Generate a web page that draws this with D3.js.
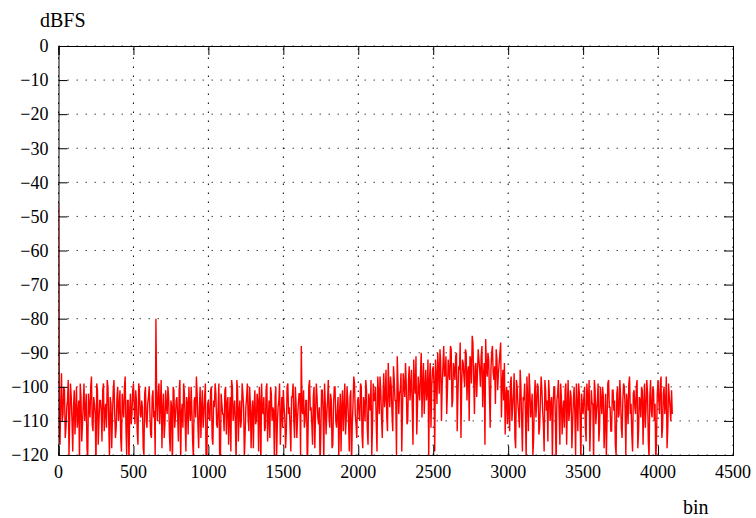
<!DOCTYPE html>
<html>
<head>
<meta charset="utf-8">
<script src="https://cdn.jsdelivr.net/npm/d3@7"></script>
<style>
  body { margin: 0; background: #fff; font-family: 'Liberation Serif', serif; }
</style>
</head>
<body>
<div id="container"></div>
<script>
// spectrum magnitude in dBFS, every 5 bins
const lastBin = 4095;

// bins 0, 10, 20 ... 4090 and the last bin 4095
const spectrumEven = [
  // 0 - 490
  -46, -117, -96, -108, -101, -112, -104, -120, -99, -110,
  -106, -114, -100, -108, -122, -103, -111, -99, -107, -118,
  -102, -109, -97, -113, -105, -124, -101, -110, -104, -116,
  -99, -107, -112, -100, -121, -105, -109, -98, -115, -103,
  -110, -101, -119, -106, -100, -112, -104, -123, -102, -108,
  // 500 - 990
  -99, -111, -104, -117, -101, -109, -106, -120, -100, -112,
  -103, -108, -115, -101, -107, -80, -110, -99, -105, -118,
  -102, -111, -106, -100, -114, -104, -125, -101, -109, -103,
  -116, -98, -108, -112, -102, -119, -105, -100, -110, -107,
  -121, -103, -97, -111, -106, -115, -101, -108, -99, -120,
  // 1000 - 1490
  -104, -110, -100, -117, -106, -102, -112, -99, -123, -105,
  -108, -101, -114, -103, -109, -119, -100, -107, -111, -98,
  -116, -104, -110, -102, -121, -106, -99, -113, -105, -108,
  -118, -101, -110, -104, -100, -124, -107, -103, -112, -99,
  -109, -115, -102, -106, -120, -100, -111, -104, -117, -103,
  // 1500 - 1990
  -101, -109, -113, -99, -106, -119, -103, -110, -100, -115,
  -105, -102, -88, -108, -112, -104, -125, -100, -107, -111,
  -103, -118, -99, -109, -106, -114, -101, -122, -105, -108,
  -98, -112, -104, -117, -100, -110, -107, -121, -102, -106,
  -113, -99, -109, -104, -119, -101, -111, -97, -108, -115,
  // 2000 - 2490
  -103, -110, -100, -118, -105, -98, -112, -102, -107, -120,
  -99, -104, -111, -97, -108, -101, -115, -96, -103, -109,
  -93, -106, -100, -113, -98, -104, -91, -108, -101, -119,
  -96, -103, -99, -110, -94, -100, -106, -92, -102, -114,
  -97, -104, -90, -99, -108, -95, -101, -121, -93, -100,
  // 2500 - 2990
  -94, -119, -97, -90, -102, -93, -99, -88, -96, -108,
  -92, -98, -89, -104, -95, -91, -113, -94, -87, -99,
  -93, -100, -90, -96, -110, -92, -85, -98, -94, -103,
  -89, -95, -91, -106, -93, -86, -97, -92, -112, -90,
  -96, -94, -89, -101, -93, -87, -99, -104, -114, -100,
  // 3000 - 3490
  -101, -113, -97, -106, -96, -118, -100, -108, -95, -110,
  -103, -99, -121, -104, -96, -109, -102, -115, -98, -105,
  -100, -112, -97, -107, -119, -101, -104, -98, -110, -103,
  -106, -100, -123, -102, -108, -99, -114, -104, -101, -117,
  -98, -107, -103, -111, -100, -120, -105, -99, -109, -102,
  // 3500 - 3990
  -108, -100, -116, -103, -98, -110, -105, -122, -101, -107,
  -99, -112, -104, -100, -118, -102, -109, -98, -106, -113,
  -101, -104, -120, -100, -108, -103, -115, -99, -106, -102,
  -111, -97, -105, -119, -101, -108, -98, -113, -104, -100,
  -117, -99, -106, -102, -121, -98, -109, -101, -105, -114,
  // 4000 - 4095
  -98, -108, -97, -112, -100, -105, -118, -99, -106, -101, -108
];

// bins 5, 15, 25 ... 4085
const spectrumOdd = [
  // 5 - 495
  -112, -104, -110, -100, -115, -106, -98, -109, -103, -119,
  -101, -107, -112, -104, -99, -116, -105, -110, -102, -121,
  -106, -100, -111, -103, -108, -99, -117, -104, -107, -101,
  -113, -105, -98, -110, -103, -118, -101, -108, -112, -100,
  -106, -115, -102, -109, -97, -120, -104, -107, -111, -101,
  // 505 - 995
  -106, -101, -113, -99, -108, -104, -118, -102, -110, -105,
  -100, -114, -103, -109, -120, -104, -102, -111, -98, -107,
  -115, -101, -108, -103, -119, -106, -100, -112, -104, -109,
  -101, -122, -105, -99, -110, -103, -114, -107, -100, -116,
  -104, -109, -102, -118, -100, -106, -112, -103, -125, -105,
  // 1005 - 1495
  -109, -101, -115, -104, -99, -111, -106, -120, -102, -108,
  -113, -100, -105, -117, -103, -98, -110, -104, -122, -101,
  -107, -112, -99, -106, -114, -103, -109, -100, -118, -104,
  -106, -111, -102, -119, -105, -99, -108, -113, -101, -116,
  -104, -100, -110, -107, -103, -121, -106, -99, -109, -112,
  // 1505 - 1995
  -106, -118, -100, -108, -112, -103, -99, -115, -105, -109,
  -102, -120, -107, -101, -110, -104, -113, -98, -106, -117,
  -100, -108, -103, -111, -123, -101, -107, -99, -114, -104,
  -109, -102, -118, -105, -100, -112, -103, -108, -119, -101,
  -106, -114, -100, -110, -103, -124, -105, -99, -111, -104,
  // 2005 - 2495
  -108, -99, -114, -103, -110, -101, -117, -105, -98, -111,
  -104, -100, -119, -102, -97, -109, -103, -106, -95, -113,
  -101, -97, -108, -94, -104, -120, -99, -102, -96, -107,
  -100, -93, -111, -98, -104, -95, -117, -99, -91, -106,
  -101, -96, -109, -93, -100, -104, -92, -98, -112, -95,
  // 2505 - 2995
  -99, -92, -105, -95, -89, -110, -94, -97, -91, -101,
  -96, -88, -106, -93, -98, -90, -102, -95, -115, -92,
  -97, -89, -104, -94, -91, -99, -87, -108, -93, -96,
  -92, -100, -88, -97, -117, -94, -90, -102, -95, -88,
  -98, -105, -92, -96, -90, -109, -95, -93, -103, -111,
  // 3005 - 3495
  -107, -99, -110, -102, -115, -98, -105, -112, -100, -119,
  -104, -108, -97, -113, -101, -106, -120, -103, -109, -99,
  -114, -104, -101, -111, -98, -107, -116, -102, -105, -121,
  -100, -109, -104, -98, -117, -103, -107, -112, -99, -106,
  -110, -101, -118, -104, -108, -99, -113, -102, -122, -106,
  // 3505 - 3995
  -103, -112, -99, -107, -119, -101, -105, -98, -111, -104,
  -116, -100, -108, -103, -110, -121, -99, -106, -113, -101,
  -107, -117, -102, -109, -98, -112, -104, -100, -120, -105,
  -99, -108, -114, -102, -106, -100, -118, -103, -109, -101,
  -105, -112, -98, -116, -103, -107, -100, -110, -123, -102,
  // 4005 - 4085
  -104, -99, -115, -102, -108, -97, -112, -103, -110
];

const xTicks = [0, 500, 1000, 1500, 2000, 2500, 3000, 3500, 4000, 4500];
const yTicks = [0, -10, -20, -30, -40, -50, -60, -70, -80, -90, -100, -110, -120];

const width = 756;
const height = 518;
const margin = { top: 46, right: 23, bottom: 63, left: 58.5 };

const svg = d3.select('#container').append('svg')
  .attr('width', width)
  .attr('height', height)
  .attr('font-family', 'Liberation Serif')
  .style('display', 'block');

const x = d3.scaleLinear()
  .domain([0, 4500])
  .range([margin.left, width - margin.right]);

const y = d3.scaleLinear()
  .domain([-120, 0])
  .range([height - margin.bottom, margin.top]);

// merge the two readings into one bin-ordered trace
const points = [];
spectrumEven.forEach((v, i) => {
  points.push([Math.min(i * 10, lastBin), v]);
  if (i < spectrumOdd.length) points.push([i * 10 + 5, spectrumOdd[i]]);
});

const fmt = d => (d < 0 ? '\u2212' + Math.abs(d) : String(d));

// dotted grid
svg.append('g')
  .selectAll('line')
  .data(yTicks)
  .enter().append('line')
  .attr('x1', x(0)).attr('x2', x(4500))
  .attr('y1', d => y(d)).attr('y2', d => y(d))
  .attr('stroke', '#444')
  .attr('stroke-width', 1)
  .attr('stroke-dasharray', '1.5,7.5');

svg.append('g')
  .selectAll('line')
  .data(xTicks)
  .enter().append('line')
  .attr('x1', d => x(d)).attr('x2', d => x(d))
  .attr('y1', y(-120)).attr('y2', y(0))
  .attr('stroke', '#000')
  .attr('stroke-width', 1)
  .attr('stroke-dasharray', '1.5,7.5');

// spectrum trace
svg.append('clipPath').attr('id', 'plot')
  .append('rect')
  .attr('x', x(0)).attr('y', y(0))
  .attr('width', x(4500) - x(0)).attr('height', y(-120) - y(0));

svg.append('path')
  .datum(points)
  .attr('clip-path', 'url(#plot)')
  .attr('fill', 'none')
  .attr('stroke', '#ff0000')
  .attr('stroke-width', 1.4)
  .attr('d', d3.line().x(d => x(d[0])).y(d => y(d[1])));

// inward ticks on all four sides
const tickLen = 9;
const axBottom = svg.append('g').attr('transform', `translate(0,${y(-120)})`)
  .call(d3.axisTop(x).tickValues(xTicks).tickSize(tickLen).tickFormat(''));
const axTop = svg.append('g').attr('transform', `translate(0,${y(0)})`)
  .call(d3.axisBottom(x).tickValues(xTicks).tickSize(tickLen).tickFormat(''));
const axLeft = svg.append('g').attr('transform', `translate(${x(0)},0)`)
  .call(d3.axisRight(y).tickValues(yTicks).tickSize(tickLen).tickFormat(''));
const axRight = svg.append('g').attr('transform', `translate(${x(4500)},0)`)
  .call(d3.axisLeft(y).tickValues(yTicks).tickSize(tickLen).tickFormat(''));
[axBottom, axTop, axLeft, axRight].forEach(g => {
  g.select('.domain').attr('stroke', '#000').attr('stroke-width', 1);
  g.selectAll('.tick line').attr('stroke', '#000');
});

// tick labels
svg.append('g')
  .selectAll('text')
  .data(yTicks)
  .enter().append('text')
  .attr('x', x(0) - 10)
  .attr('y', d => y(d))
  .attr('dy', '0.35em')
  .attr('text-anchor', 'end')
  .attr('font-size', 18)
  .text(fmt);

svg.append('g')
  .selectAll('text')
  .data(xTicks)
  .enter().append('text')
  .attr('x', d => x(d))
  .attr('y', y(-120) + 23)
  .attr('text-anchor', 'middle')
  .attr('font-size', 18)
  .text(fmt);

// axis titles
svg.append('text')
  .attr('x', 40).attr('y', 27)
  .attr('font-size', 20)
  .text('dBFS');

svg.append('text')
  .attr('x', 683).attr('y', 514)
  .attr('font-size', 20)
  .text('bin');
</script>
</body>
</html>
